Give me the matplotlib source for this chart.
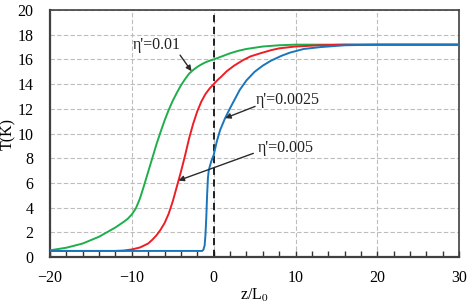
import numpy as np
import matplotlib as mpl
mpl.use('Agg')
import matplotlib.pyplot as plt

# values, (z/L0, T) pairs
z_01 = [-20, -18, -16, -14, -12, -11, -10.5, -10, -9.5, -9, -8.5, -8, -7.5, -7,
        -6.5, -6, -5.5, -5, -4.5, -4, -3.5, -3, -2.5, -2, -1.5, -1, -0.5, 0,
        1, 2, 3, 4, 5, 6, 8, 10, 30]
T_01 = [0.55, 0.76, 1.1, 1.65, 2.4, 2.85, 3.1, 3.45, 3.95, 4.75, 5.8, 6.9, 8.0, 9.1,
        10.1, 11.05, 11.9, 12.65, 13.3, 13.9, 14.4, 14.85, 15.15, 15.4, 15.6, 15.77, 15.9, 16.0,
        16.25, 16.5, 16.7, 16.85, 16.95, 17.05, 17.15, 17.2, 17.2]

z_005 = [-20, -12, -11, -10, -9, -8, -7.5, -7, -6.5, -6, -5.5, -5, -4.5, -4,
         -3.5, -3, -2.5, -2, -1.5, -1, -0.5, 0, 0.5, 1, 1.6, 2.5, 3.6, 4.5,
         5.7, 7, 8, 10, 13, 16, 30]
T_005 = [0.5, 0.5, 0.53, 0.62, 0.78, 1.1, 1.4, 1.75, 2.2, 2.75, 3.5, 4.5, 5.7, 6.9,
         8.2, 9.6, 10.8, 11.8, 12.6, 13.2, 13.65, 14.0, 14.35, 14.65, 15.05, 15.5, 15.95, 16.25,
         16.5, 16.75, 16.9, 17.05, 17.15, 17.2, 17.2]

z_0025 = [-20, -1.4, -1.25, -1.1, -1.0, -0.9, -0.8, -0.7, -0.6, -0.45, -0.24, 0,
          0.4, 0.8, 1.4, 2, 2.6, 3.2, 4, 5, 6, 7, 8.3, 9.3, 11, 13, 16, 20, 30]
T_0025 = [0.5, 0.5, 0.6, 0.95, 1.8, 3.2, 5.0, 6.4, 7.0, 7.4, 7.85, 8.25,
          9.4, 10.3, 11.25, 12.05, 12.8, 13.55, 14.3, 15.0, 15.5, 15.9, 16.3, 16.55, 16.85, 17.0, 17.15, 17.2, 17.2]

labels = ["η'=0.01", "η'=0.0025", "η'=0.005"]
tips = [(-2.7, 15.05), (1.4, 11.25), (-4.3, 6.2)]
starts = [(-4.1, 16.35), (5.06, 12.2), (4.85, 8.4)]
text_pos = [(-9.9, 17.2), (5.1, 12.7), (5.4, 8.8)]

plt.rcParams['font.family'] = ['Liberation Serif', 'DejaVu Serif']
plt.rcParams['mathtext.fontset'] = 'stix'

fig = plt.figure(figsize=(4.71, 3.05), dpi=100)
ax = fig.add_axes([0.106, 0.157, 0.869, 0.81])

ax.grid(True, color='#bdbdbd', linestyle=(0, (4, 2)), linewidth=0.8)
ax.set_axisbelow(True)
ax.axvline(0, color='#111111', linestyle=(0, (4, 2.5)), linewidth=1.3, zorder=2)

ax.plot(z_01, T_01, color='#1fae4b', lw=1.4, zorder=3)
ax.plot(z_005, T_005, color='#ec1f26', lw=1.4, zorder=3)
ax.plot(z_0025, T_0025, color='#1b75bb', lw=1.4, zorder=3)

for lab, tp, st, tx in zip(labels, tips, starts, text_pos):
    ax.annotate('', xy=tp, xytext=st,
                arrowprops=dict(arrowstyle='-|>', color='#2b2b2b', lw=1.0,
                                mutation_scale=8, shrinkA=0, shrinkB=0), zorder=4)
    ax.text(tx[0], tx[1], lab, fontsize=11.5, va='center', ha='left', color='#222222')

ax.set_xlim(-20, 30)
ax.set_ylim(0, 20)
ax.set_xticks(np.arange(-20, 31, 10))
ax.set_xticks(np.arange(-20, 31, 2), minor=True)
ax.set_yticks(np.arange(0, 21, 2))
ax.tick_params(axis='x', which='both', direction='in', length=4, width=1,
               color='#333333', labelsize=11.5, pad=9)
ax.tick_params(axis='y', length=0, labelsize=11.5, pad=12)

for s in ax.spines.values():
    s.set_color('#404040')
    s.set_linewidth(1.2)
ax.spines['left'].set_linewidth(1.6)
ax.spines['bottom'].set_linewidth(1.6)

ax.set_xlabel('z/L$_0$', fontsize=11.5, labelpad=1)
ax.set_ylabel('T(K)', fontsize=11.5, va='center')
ax.yaxis.set_label_coords(-0.102, 0.5)

fig.savefig('out.png', dpi=100)
plt.close()
